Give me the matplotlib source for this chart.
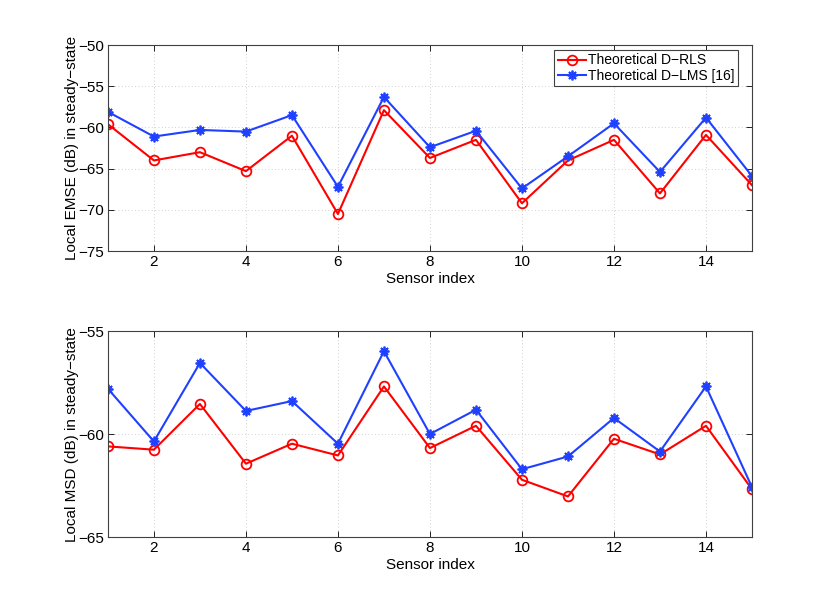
import matplotlib
matplotlib.use("Agg")
import matplotlib.pyplot as plt
import numpy as np

plt.rcParams['font.family'] = ['Liberation Sans', 'DejaVu Sans']
plt.rcParams['font.size'] = 11
plt.rcParams['axes.unicode_minus'] = True

sensors = list(range(1, 16))

emse_rls = [-59.6, -64.0, -63.0, -65.3, -61.0, -70.5, -57.9, -63.7, -61.5, -69.2, -64.0, -61.5, -68.0, -60.9, -67.0]
emse_lms = [-58.1, -61.1, -60.3, -60.5, -58.5, -67.2, -56.3, -62.4, -60.4, -67.4, -63.5, -59.5, -65.4, -58.8, -65.9]

msd_rls = [-60.59, -60.75, -58.53, -61.43, -60.46, -61.03, -57.68, -60.67, -59.59, -62.21, -63.02, -60.22, -60.98, -59.59, -62.67]
msd_lms = [-57.79, -60.35, -56.54, -58.87, -58.39, -60.46, -55.97, -59.99, -58.81, -61.70, -61.08, -59.21, -60.84, -57.68, -62.57]

xticks = [2, 4, 6, 8, 10, 12, 14]
emse_yticks = [-75, -70, -65, -60, -55, -50]
msd_yticks = [-65, -60, -55]

label_rls = "Theoretical D\u2212RLS"
label_lms = "Theoretical D\u2212LMS [16]"

red = '#ff0000'
blue = '#2040ff'
ast = (8, 2, 0)

fig = plt.figure(figsize=(8.3, 6.05), dpi=100)
ax1 = fig.add_axes([0.130, 0.585, 0.776, 0.3405])
ax2 = fig.add_axes([0.130, 0.112, 0.776, 0.3405])

def style(ax, yticks, ylim, ylabel):
    ax.set_xlim(1, 15)
    ax.set_ylim(*ylim)
    ax.set_xticks(xticks)
    ax.set_yticks(yticks)
    ax.grid(True, linestyle=(0, (1, 3)), color='#c0c0c0', linewidth=0.6)
    ax.tick_params(direction='in', top=True, right=True, length=4, width=0.6, labelsize=11, colors='#000000', pad=3)
    for s in ax.spines.values():
        s.set_linewidth(0.8)
        s.set_color('#404040')
    ax.set_xlabel('Sensor index', fontsize=11, labelpad=2)
    ax.set_ylabel(ylabel, fontsize=11, labelpad=-1)

ax1.plot(sensors, emse_rls, color=red, lw=1.5, marker='o', mfc='none', mec=red, ms=7, mew=1.3, label=label_rls)
ax1.plot(sensors, emse_lms, color=blue, lw=1.5, marker=ast, mec=blue, ms=7, mew=1.3, label=label_lms)
style(ax1, emse_yticks, (-75, -50), "Local EMSE (dB) in steady\u2212state")
leg = ax1.legend(loc='upper right', bbox_to_anchor=(0.979, 0.976), fancybox=False, framealpha=1,
                 edgecolor='#404040', handlelength=2.0, handletextpad=0.2, borderpad=0.25,
                 labelspacing=0.1, borderaxespad=0.0, fontsize=10)
leg.get_frame().set_linewidth(0.8)

ax2.plot(sensors, msd_rls, color=red, lw=1.5, marker='o', mfc='none', mec=red, ms=7, mew=1.3)
ax2.plot(sensors, msd_lms, color=blue, lw=1.5, marker=ast, mec=blue, ms=7, mew=1.3)
style(ax2, msd_yticks, (-65, -55), "Local MSD (dB) in steady\u2212state")

fig.savefig('out.png', dpi=100)
